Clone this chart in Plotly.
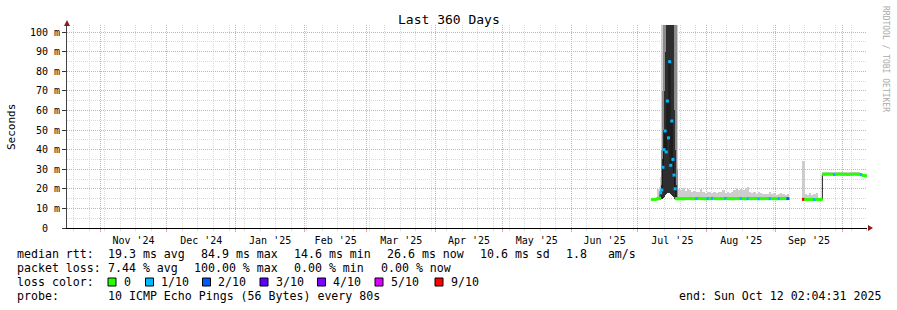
import numpy as np
import pandas as pd
import plotly.graph_objects as go

# ---------------- data ----------------
TITLE = "Last 360 Days"
END_TIME = "2025-10-12 02:04:31"
SPAN_DAYS = 360

Y_TICK_VALUES = [0, 10, 20, 30, 40, 50, 60, 70, 80, 90, 100]
Y_TICK_LABELS = ["0", "10 m", "20 m", "30 m", "40 m", "50 m", "60 m", "70 m", "80 m", "90 m", "100 m"]

# daily samples (ms), first day 2025-07-07; None = no data
DAILY_FIRST_DAY = "2025-07-07"
daily_median = [
    14.6, 14.6, 14.7,
    None, None, None, None, None, None, None, None, None,
    15.0, 15.0, 14.9, 15.0, 15.0, 15.1, 14.9, 15.0, 15.0, 15.1,
    15.0, 15.0, 14.9, 15.0, 15.0, 15.1, 15.0, 15.0, 14.9, 15.0,
    15.0, 15.1, 15.0, 15.0, 14.9, 15.0, 15.0, 15.1, 15.0, 15.0,
    14.9, 15.0, 15.0, 15.0, 15.1, 15.0, 14.9, 15.0, 15.0, 15.1,
    15.0, 15.0, 15.0, 15.0, 14.9, 15.0, 15.0, 15.1, 15.0, 15.0,
    None, None, None, None, None, None,
    14.6, 14.6, 14.5, 14.6, 14.6, 14.5, 14.6, 14.6, 14.6,
    27.4, 27.4, 27.5, 27.4, 27.4, 27.3, 27.4, 27.5, 27.4, 27.4,
    27.4, 27.3, 27.4, 27.4, 27.5, 27.4, 27.4, 27.2, 26.8, 26.6,
]
daily_min = [
    14.3, 14.3, 14.3,
    None, None, None, None, None, None, None, None, None,
    14.4, 14.4, 14.4, 14.5, 14.4, 14.5, 14.4, 14.4, 14.5, 14.5,
    14.4, 14.4, 14.4, 14.5, 14.4, 14.5, 14.4, 14.4, 14.4, 14.5,
    14.4, 14.5, 14.4, 14.4, 14.4, 14.5, 14.4, 14.5, 14.4, 14.4,
    14.4, 14.5, 14.4, 14.4, 14.5, 14.4, 14.4, 14.5, 14.4, 14.5,
    14.4, 14.4, 14.4, 14.4, 14.4, 14.5, 14.4, 14.5, 14.4, 14.4,
    None, None, None, None, None, None,
    14.2, 14.2, 14.2, 14.3, 14.2, 14.2, 14.3, 14.3, 14.3,
    27.0, 27.0, 27.1, 27.0, 27.0, 26.9, 27.0, 27.1, 27.0, 27.0,
    27.0, 26.9, 27.0, 27.0, 27.1, 27.0, 27.0, 26.8, 26.4, 26.2,
]
daily_max = [
    15.0, 15.2, 15.6,
    None, None, None, None, None, None, None, None, None,
    20.0, 19.6, 20.2, 19.0, 19.8, 19.2, 18.6, 18.8, 18.2, 18.6,
    20.0, 18.4, 18.0, 18.6, 18.2, 17.8, 18.3, 17.9, 18.2, 18.6,
    19.2, 18.0, 18.4, 17.8, 18.3, 19.6, 20.2, 19.4, 20.0, 19.2,
    20.4, 20.8, 18.6, 18.0, 18.4, 17.6, 18.2, 17.8, 17.4, 17.6,
    17.2, 18.5, 17.4, 17.8, 17.0, 17.4, 17.8, 17.2, 17.0, 17.4,
    None, None, None, None, None, None,
    34.0, 17.2, 16.8, 17.8, 16.6, 17.4, 18.0, 15.0, 15.0,
    28.6, 28.6, 28.7, 28.6, 28.6, 28.5, 28.6, 28.7, 28.6, 28.6,
    28.6, 28.5, 28.6, 28.6, 28.7, 28.6, 28.6, 28.2, 27.6, 27.4,
]
daily_loss = [
    0, 0, 0,
    0, 0, 0, 0, 0, 0, 0, 0, 0,
    0, 0, 0, 0, 0, 0, 0, 0, 1, 0,
    0, 0, 0, 1, 0, 1, 0, 0, 0, 0,
    0, 1, 0, 0, 0, 0, 0, 0, 1, 0,
    0, 1, 0, 0, 0, 0, 1, 0, 0, 0,
    0, 1, 0, 0, 0, 1, 0, 0, 0, 2,
    0, 0, 0, 0, 0, 0,
    9, 0, 0, 0, 0, 1, 0, 0, 0,
    0, 0, 0, 0, 0, 1, 0, 0, 0, 0,
    0, 0, 0, 0, 0, 0, 0, 1, 0, 0,
]

# 12-hour samples around the July outage, first slot 2025-07-10 00:00
SPIKE_FIRST_SLOT = "2025-07-10 00:00"
spike_median = [15.0, 15.2, 18.0, 19.4, 31.0, 40.0, 49.5, 38.8, 64.8,
                46.0, 84.9, 32.0, 54.6, 35.0, 27.0, 20.0, 15.0, 14.9]
spike_min = [14.5, 14.5, 14.8, 15.0, 15.5, 16.0, 17.0, 17.5, 18.0,
             18.0, 18.0, 17.5, 17.0, 16.5, 16.0, 15.0, 14.6, 14.5]
spike_mid = [16.0, 17.0, 19.0, 40.0, 70.0, 120, 120, 120, 120,
             120, 120, 120, 120, 120, 120, 120, 120, 30.0]
spike_max = [20.0, 21.0, 26.0, 120, 120, 120, 120, 120, 120,
             120, 120, 120, 120, 120, 120, 120, 120, 120]
spike_core = [None, None, None, 22.0, 35.0, 50.0, 70.0, 90.0, 120,
              120, 120, 120, 120, 120, 60.0, 40.0, 22.0, None]
spike_loss = [0, 0, 1, 1, 1, 1, 1, 1, 1, 1, 1, 1, 1, 1, 1, 1, 0, 0]

LOSS_LEVELS = [0, 1, 2, 3, 4, 5, 9]
LOSS_LABELS = ["0", "1/10", "2/10", "3/10", "4/10", "5/10", "9/10"]
LOSS_COLORS = ["#26ff00", "#00b8ff", "#0059ff", "#5e00ff", "#7e00ff", "#dd00ff", "#ff0000"]

# ---------------- styling ----------------
W, H = 897, 310
ML, MR, MT, MB = 67, 30, 25, 82
PW, PH = W - ML - MR, H - MT - MB
MONO = "DejaVu Sans Mono"
RED_GRID = "#f2a0a0"
GRAY_GRID = "#dadada"
ARROW = "#8b1a1a"
LIGHT, MID, CORE = "#cdcdcd", "#8c8c8c", "#2e2e2e"
DAY = pd.Timedelta(days=1)
HALF = pd.Timedelta(hours=12)
DAY_MS = DAY.total_seconds() * 1000
HALF_MS = HALF.total_seconds() * 1000

end = pd.Timestamp(END_TIME)
start = end - pd.Timedelta(days=SPAN_DAYS)

arr = lambda v: np.array(v, dtype=float)
d_x = pd.date_range(DAILY_FIRST_DAY, periods=len(daily_median), freq="D")
s_x = pd.date_range(SPIKE_FIRST_SLOT, periods=len(spike_median), freq="12h")
d_med, d_lo, d_hi = arr(daily_median), arr(daily_min), arr(daily_max)
s_med, s_lo, s_hi, s_mid, s_core = (arr(spike_median), arr(spike_min), arr(spike_max),
                                    arr(spike_mid), arr(spike_core))
loss_color = dict(zip(LOSS_LEVELS, LOSS_COLORS))

fig = go.Figure()

def band(x, lo, hi, width, color):
    fig.add_trace(go.Bar(x=x, y=hi - lo, base=lo, width=width, offset=0,
                         marker=dict(color=color, line=dict(width=0)),
                         showlegend=False, hoverinfo="skip"))

band(d_x, d_lo, d_hi, DAY_MS, LIGHT)
band(s_x, s_lo, s_hi, HALF_MS, LIGHT)
band(s_x, s_lo, s_mid, HALF_MS, MID)
band(s_x, s_lo, s_core, HALF_MS, CORE)

# median line (dark steps) built from both sample sets
in_spike = (d_x >= s_x[0]) & (d_x < s_x[-1] + HALF)
line_df = pd.concat([
    pd.DataFrame({"t": d_x[~in_spike], "m": d_med[~in_spike]}),
    pd.DataFrame({"t": s_x, "m": s_med}),
]).sort_values("t")
fig.add_trace(go.Scatter(x=line_df["t"], y=line_df["m"], mode="lines",
                         line=dict(color="#1a1a1a", width=1, shape="hv"),
                         connectgaps=False, showlegend=False, hoverinfo="skip"))

# loss-coloured median
mk_x = list(d_x[~in_spike] + HALF) + list(s_x + HALF / 2)
mk_y = list(d_med[~in_spike]) + list(s_med)
mk_c = [loss_color[l] for l in np.array(daily_loss)[~in_spike]] + [loss_color[l] for l in spike_loss]
fig.add_trace(go.Scatter(x=mk_x, y=mk_y, mode="markers",
                         marker=dict(symbol="square", size=3, color=mk_c, line=dict(width=0)),
                         showlegend=False, hoverinfo="skip"))

px = lambda x: (x - ML) / PW
py = lambda y: (MT + PH - y) / PH
nb = lambda s: s.replace(" ", "\u00a0")

ann = []
def text(x, y, s, size=11.6, color="black", anchor="left", angle=0):
    ann.append(dict(x=px(x), y=py(y), xref="paper", yref="paper", text=nb(s),
                    showarrow=False, xanchor=anchor, yanchor="middle", textangle=angle,
                    font=dict(family=MONO, size=size, color=color), borderpad=0))

text(448.5, 19, TITLE, size=13, anchor="center")
text(11, 127, "Seconds", size=11, anchor="center", angle=-90)
text(886, 59, "RRDTOOL / TOBI OETIKER", size=8, color="#aaaaaa", anchor="center", angle=90)

mr, mx_, mn_, now_ = 19.3, 84.9, 14.6, 26.6
rows = [
    (254, [(16, "median rtt:"), (107, f"{mr:.1f} ms avg"), (200, f"{mx_:.1f} ms max"),
           (293, f"{mn_:.1f} ms min"), (386.5, f"{now_:.1f} ms now"), (479, "10.6 ms sd"),
           (565, "1.8   am/s")]),
    (268, [(16, "packet loss:"), (107, "7.44 % avg"), (193.5, "100.00 % max"),
           (293, "0.00 % min"), (380, "0.00 % now")]),
    (282, [(16, "loss color:")]),
    (296, [(16, "probe:"), (107, "10 ICMP Echo Pings (56 Bytes) every 80s"),
           (678, "end: Sun Oct 12 02:04:31 2025")]),
]
for y, parts in rows:
    for x, s in parts:
        text(x - 0.5, y, s)

shapes = []
box_x = [108, 145.5, 202.5, 260, 317.5, 375, 435]
for bx, lab, col in zip(box_x, LOSS_LABELS, LOSS_COLORS):
    shapes.append(dict(type="rect", xref="paper", yref="paper",
                       x0=px(bx), x1=px(bx + 8), y0=py(286), y1=py(278),
                       fillcolor=col, line=dict(color="black", width=1)))
    text(bx + 15 - 0.5, 282, lab)

# axis arrows
shapes.append(dict(type="path", xref="paper", yref="paper", xsizemode="pixel", ysizemode="pixel",
                   xanchor=0, yanchor=1, path="M -3,-1 L 3,-1 L 0,5 Z",
                   fillcolor=ARROW, line=dict(width=0)))
shapes.append(dict(type="path", xref="paper", yref="paper", xsizemode="pixel", ysizemode="pixel",
                   xanchor=1, yanchor=0, path="M 1,-3 L 1,3 L 6,0 Z",
                   fillcolor=ARROW, line=dict(width=0)))

# minor grid positions: Sundays (x) and half-decades (y), skipping major lines
sundays = [d for d in pd.date_range(start.normalize(), end, freq="W-SUN") if d.day != 1 and d > start]
y_minor = [v + 5 for v in Y_TICK_VALUES]

fig.update_layout(
    width=W, height=H, margin=dict(l=ML, r=MR, t=MT, b=MB, autoexpand=False),
    paper_bgcolor="white", plot_bgcolor="white", barmode="overlay", bargap=0,
    showlegend=False, annotations=ann, shapes=shapes,
    font=dict(family=MONO, size=10, color="black"),
    xaxis=dict(type="date", range=[start, end], dtick="M1", tick0="2024-11-01",
               ticklabelmode="period", tickformat="%b '%y",
               showgrid=True, gridcolor=RED_GRID, griddash="1px,1px", gridwidth=1,
               ticks="outside", ticklen=3, tickcolor=RED_GRID,
               showline=True, linecolor="black", linewidth=1, zeroline=False,
               tickfont=dict(family=MONO, size=10, color="black"),
               minor=dict(tickmode="array", tickvals=sundays, showgrid=True,
                          gridcolor=GRAY_GRID, griddash="1px,1px", gridwidth=1,
                          ticks="outside", ticklen=2, tickcolor=GRAY_GRID)),
    yaxis=dict(range=[0, 103.6], tickmode="array", tickvals=Y_TICK_VALUES,
               ticktext=[nb(l if " " in l else l + "  ") for l in Y_TICK_LABELS],
               showgrid=True, gridcolor=RED_GRID, griddash="1px,1px", gridwidth=1,
               ticks="outside", ticklen=4, tickcolor="#333333",
               showline=True, linecolor="#444444", linewidth=1, zeroline=False,
               tickfont=dict(family=MONO, size=10, color="black"),
               minor=dict(tickmode="array", tickvals=y_minor, showgrid=True,
                          gridcolor=GRAY_GRID, griddash="1px,1px", gridwidth=1)),
)

fig.write_html("out.html")
